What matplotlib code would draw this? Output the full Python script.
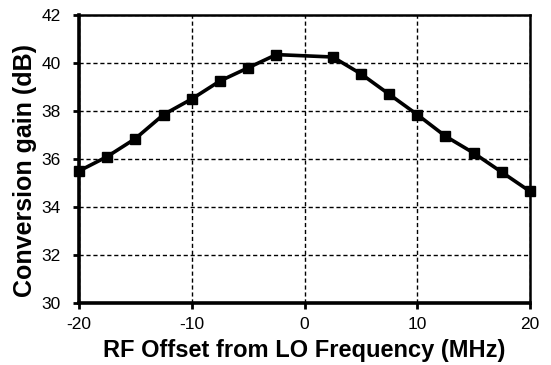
import matplotlib.pyplot as plt

# Ganancia de conversión frente al desplazamiento RF
offset_mhz = [-20, -17.5, -15, -12.5, -10, -7.5, -5, -2.5,
              2.5, 5, 7.5, 10, 12.5, 15, 17.5, 20]
gain_db = [35.5, 36.1, 36.85, 37.85, 38.5, 39.25, 39.8, 40.35,
           40.25, 39.55, 38.7, 37.85, 36.95, 36.25, 35.45, 34.65]

plt.rcParams['font.family'] = ['Liberation Sans', 'DejaVu Sans']
plt.rcParams['axes.unicode_minus'] = False

fig = plt.figure(figsize=(5.51, 3.65), dpi=100)
ax = fig.add_axes([79 / 551, 1 - 303 / 365, 451 / 551, 288 / 365])

ax.plot(offset_mhz, gain_db, color='black', linewidth=2.6,
        marker='s', markersize=7, zorder=3, clip_on=False)

ax.set_xlim(-20, 20)
ax.set_ylim(30, 42)
ax.set_xticks([-20, -10, 0, 10, 20])
ax.set_yticks(range(30, 43, 2))
ax.grid(True, color='black', linestyle=(0, (3, 2)), linewidth=1)

for side in ['left', 'bottom']:
    ax.spines[side].set_linewidth(2.6)
for side in ['top', 'right']:
    ax.spines[side].set_linewidth(1.8)

ax.tick_params(direction='out', length=4, width=2, labelsize=12.5)
ax.tick_params(axis='x', pad=6)
ax.tick_params(axis='y', pad=9)

ax.set_xlabel('RF Offset from LO Frequency (MHz)', fontsize=17,
              fontweight='bold')
ax.set_ylabel('Conversion gain (dB)', fontsize=18, fontweight='bold')
ax.xaxis.set_label_coords(0.5, -0.125)
ax.yaxis.set_label_coords(-0.093, 0.46)

plt.savefig('out.png', dpi=100)
